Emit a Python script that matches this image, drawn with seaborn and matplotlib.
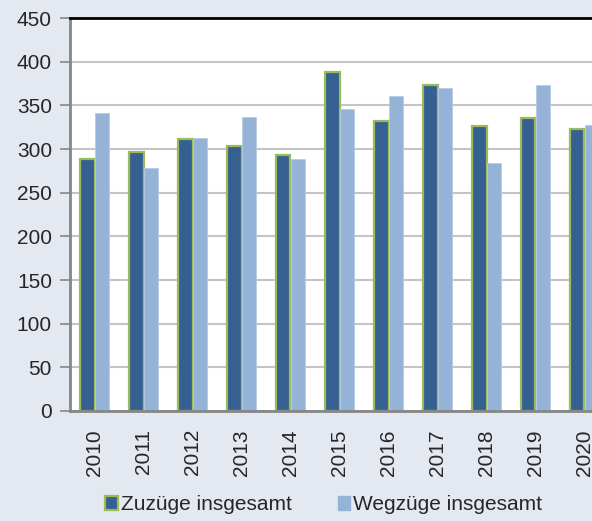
import pandas as pd
import matplotlib.pyplot as plt
import seaborn as sns

jahre = ['2010', '2011', '2012', '2013', '2014', '2015', '2016', '2017', '2018', '2019', '2020']
zuzuege = [289, 296, 311, 304, 293, 388, 332, 373, 326, 335, 323]
wegzuege = [341, 278, 313, 337, 289, 346, 361, 370, 284, 373, 328]
serien = ['Zuzüge insgesamt', 'Wegzüge insgesamt']

df = pd.DataFrame({
    'Jahr': jahre * 2,
    'Wert': zuzuege + wegzuege,
    'Art': [serien[0]] * len(jahre) + [serien[1]] * len(jahre),
})

sns.set_style('white')
plt.rcParams['font.family'] = ['Liberation Sans', 'DejaVu Sans']

bg = '#e4e8f0'
fig = plt.figure(figsize=(5.92, 5.21), dpi=100, facecolor=bg)
ax = fig.add_axes([70 / 592, 1 - 411 / 521, 539 / 592, 393 / 521])

sns.barplot(data=df, x='Jahr', y='Wert', hue='Art', palette=['#376092', '#95b3d7'],
            width=0.58, gap=0, ax=ax, legend=False, saturation=1)

for bar in ax.containers[0]:
    bar.set_edgecolor('#9bbb59')
    bar.set_linewidth(1.6)
for bar in ax.containers[1]:
    bar.set_edgecolor('#b8cce4')
    bar.set_linewidth(0.6)

ax.set_xlim(-0.5, 10.5)
ax.set_ylim(0, 450)
ax.set_yticks(range(0, 451, 50))
ax.yaxis.grid(True, color='#c4c4c4', linewidth=1.5)
ax.set_axisbelow(True)
ax.set_xlabel('')
ax.set_ylabel('')

for s in ['left', 'bottom']:
    ax.spines[s].set_color('#868686')
    ax.spines[s].set_linewidth(2)
ax.spines['top'].set_color('black')
ax.spines['top'].set_linewidth(2)
ax.spines['right'].set_visible(False)

ax.tick_params(axis='y', length=7, width=1.2, color='#868686', labelsize=15, pad=6, left=True)
ax.tick_params(axis='x', length=0, labelsize=15, pad=13, rotation=90)

handles = [
    plt.Rectangle((0, 0), 1, 1, facecolor='#376092', edgecolor='#9bbb59', linewidth=1.6),
    plt.Rectangle((0, 0), 1, 1, facecolor='#95b3d7', edgecolor='#95b3d7'),
]
fig.legend(handles, serien, loc='center', bbox_to_anchor=(0.547, 0.031), ncol=2,
           frameon=False, fontsize=15, handlelength=0.6, handleheight=0.6,
           handletextpad=0.15, columnspacing=2.2)

fig.savefig('out.png', dpi=100, facecolor=bg)
